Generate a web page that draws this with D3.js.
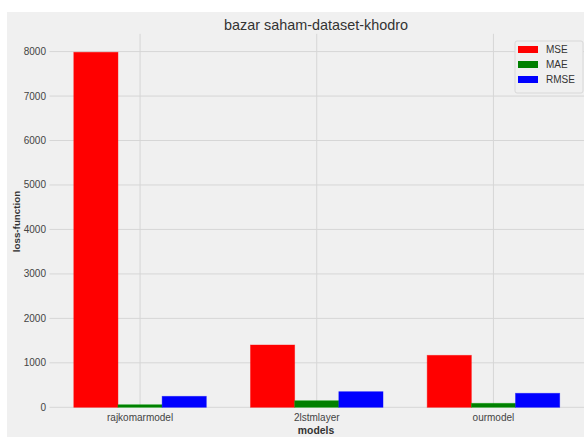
<!DOCTYPE html>
<html>
<head>
<meta charset="utf-8">
<title>bazar saham-dataset-khodro</title>
<style>
body { margin: 0; background: #fff; }
svg { display: block; font-family: "Liberation Sans", Arial, sans-serif; }
</style>
</head>
<body>
<svg id="chart" width="584" height="437"></svg>
<script src="https://cdn.jsdelivr.net/npm/d3@7"></script>
<script>
var models = ["rajkomarmodel", "2lstmlayer", "ourmodel"];
var seriesNames = ["MSE", "MAE", "RMSE"];
var seriesColors = ["#ff0000", "#008000", "#0000ff"];
var mse = [7985, 1401, 1169];
var mae = [58, 148, 90];
var rmse = [247, 351, 315];
var yTicks = [0, 1000, 2000, 3000, 4000, 5000, 6000, 7000, 8000];

var values = [mse, mae, rmse];
var barWidth = 0.25;

var svg = d3.select("#chart");

// figure background (offset like the cropped screenshot)
svg.append("rect")
    .attr("x", 7).attr("y", 12)
    .attr("width", 577).attr("height", 425)
    .attr("fill", "#f0f0f0");

var x = d3.scaleLinear().domain([-0.5125, 2.5125]).range([49.5, 584]);
var y = d3.scaleLinear().domain([0, 8400]).range([407.3, 33.8]);

// grid
svg.append("g").selectAll("line")
    .data(yTicks)
  .enter().append("line")
    .attr("x1", x.range()[0]).attr("x2", x.range()[1])
    .attr("y1", function(d) { return y(d); })
    .attr("y2", function(d) { return y(d); })
    .attr("stroke", "#d6d6d6").attr("stroke-width", 1);

svg.append("g").selectAll("line")
    .data(models)
  .enter().append("line")
    .attr("x1", function(d, i) { return x(i); })
    .attr("x2", function(d, i) { return x(i); })
    .attr("y1", y.range()[0]).attr("y2", y.range()[1])
    .attr("stroke", "#d6d6d6").attr("stroke-width", 1);

// bars
seriesNames.forEach(function(name, s) {
    svg.append("g").selectAll("rect")
        .data(values[s])
      .enter().append("rect")
        .attr("x", function(d, i) { return x(i + (s - 1) * barWidth - barWidth / 2); })
        .attr("width", x(barWidth) - x(0))
        .attr("y", function(d) { return y(d); })
        .attr("height", function(d) { return y(0) - y(d); })
        .attr("fill", seriesColors[s])
        .attr("stroke", d3.color(seriesColors[s]).brighter(0.6))
        .attr("stroke-opacity", 0.5)
        .attr("stroke-width", 0.8);
});

// y tick labels
svg.append("g").selectAll("text")
    .data(yTicks)
  .enter().append("text")
    .attr("x", 46)
    .attr("y", function(d) { return y(d) + 3.5; })
    .attr("text-anchor", "end")
    .attr("font-size", 10)
    .attr("fill", "#444")
    .text(function(d) { return d; });

// x tick labels
svg.append("g").selectAll("text")
    .data(models)
  .enter().append("text")
    .attr("x", function(d, i) { return x(i); })
    .attr("y", 420.5)
    .attr("text-anchor", "middle")
    .attr("font-size", 10)
    .attr("fill", "#444")
    .text(function(d) { return d; });

// title and axis labels
svg.append("text")
    .attr("x", 316).attr("y", 30)
    .attr("text-anchor", "middle")
    .attr("font-size", 14.4)
    .attr("fill", "#333")
    .text("bazar saham-dataset-khodro");

svg.append("text")
    .attr("x", 316).attr("y", 433.5)
    .attr("text-anchor", "middle")
    .attr("font-size", 10.4)
    .attr("font-weight", "bold")
    .attr("fill", "#333")
    .text("models");

svg.append("text")
    .attr("transform", "translate(19.5,221.5) rotate(-90)")
    .attr("text-anchor", "middle")
    .attr("font-size", 9.8)
    .attr("font-weight", "bold")
    .attr("fill", "#333")
    .text("loss-function");

// legend
var legend = svg.append("g").attr("transform", "translate(515,41)");
legend.append("rect")
    .attr("width", 68).attr("height", 52)
    .attr("rx", 2)
    .attr("fill", "#f0f0f0")
    .attr("stroke", "#d8d8d8");
var item = legend.selectAll("g.item")
    .data(seriesNames)
  .enter().append("g")
    .attr("class", "item")
    .attr("transform", function(d, i) { return "translate(0," + (8 + i * 15) + ")"; });
item.append("rect")
    .attr("x", 3).attr("y", -3)
    .attr("width", 20).attr("height", 7)
    .attr("fill", function(d, i) { return seriesColors[i]; });
item.append("text")
    .attr("x", 31).attr("y", 4)
    .attr("font-size", 10)
    .attr("fill", "#333")
    .text(function(d) { return d; });
</script>
</body>
</html>
